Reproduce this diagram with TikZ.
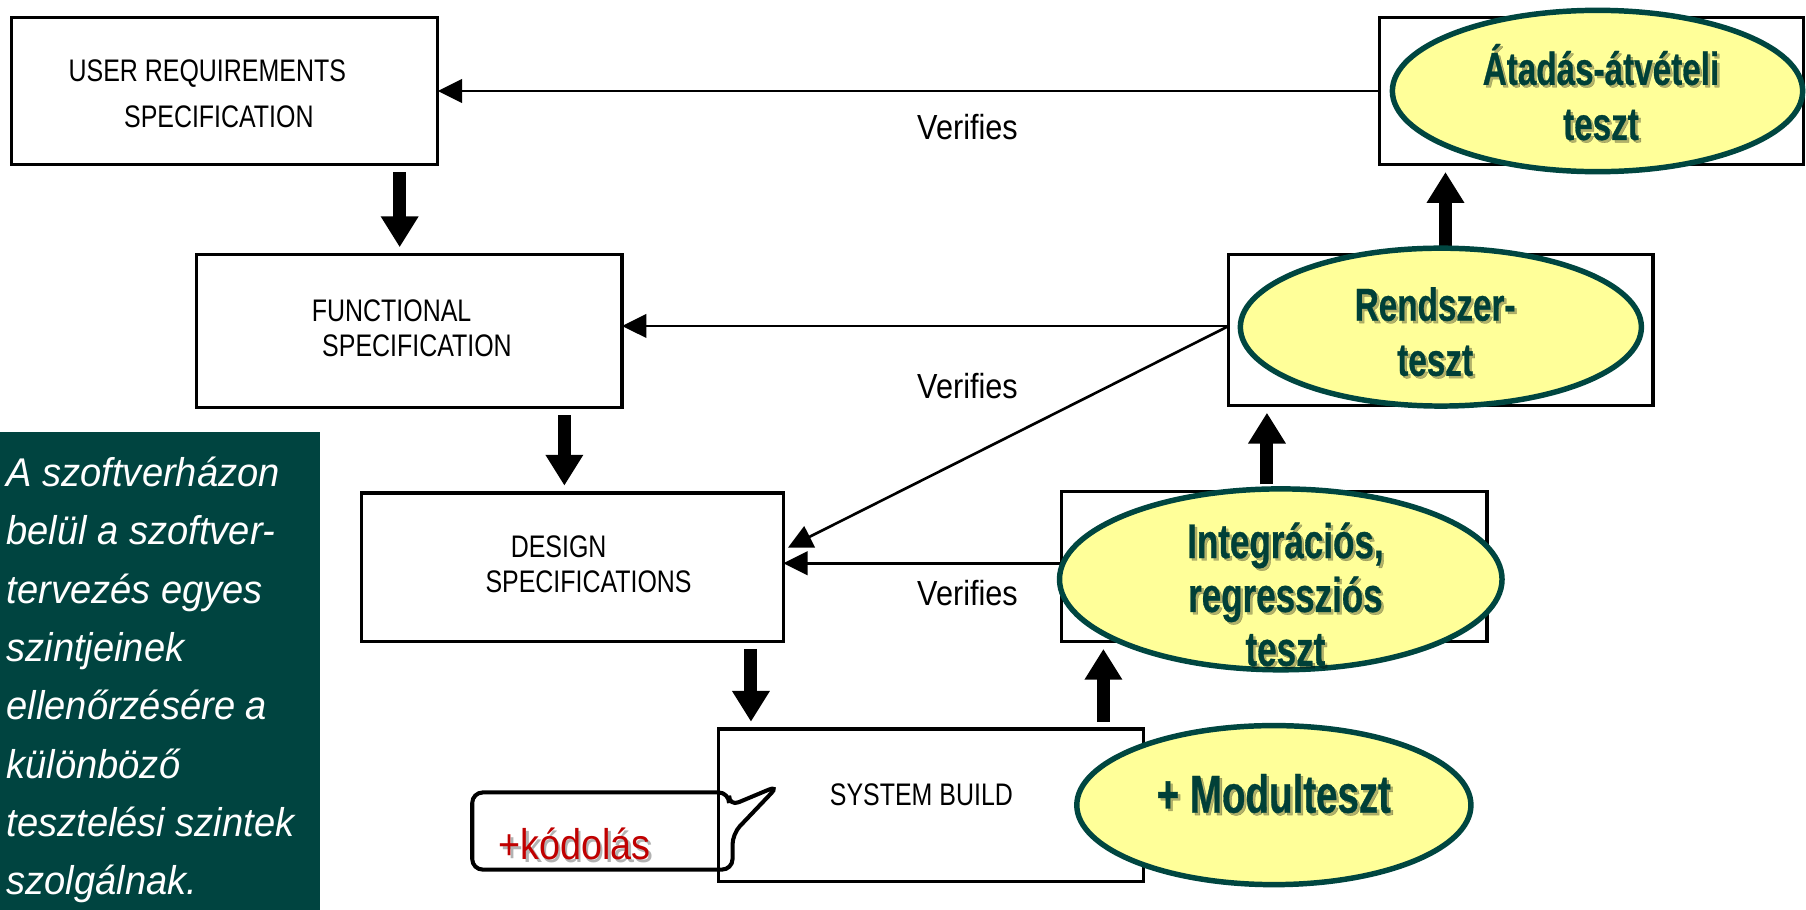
\documentclass[tikz,border=0pt]{standalone}
\usepackage{fontspec}
\setmainfont{Liberation Sans}
\newfontfamily\boxfont[FakeStretch=0.80]{Liberation Sans}
\newfontfamily\verfont[FakeStretch=0.88]{Liberation Sans}
\newfontfamily\ellfont[FakeStretch=0.72,FakeBold=0.6]{Liberation Sans}
\newfontfamily\panelfont[FakeStretch=0.95]{Liberation Sans}
\usetikzlibrary{arrows.meta,shapes.geometric,calc}

\definecolor{panelgreen}{RGB}{0,68,64}
\definecolor{ellline}{RGB}{0,70,64}
\definecolor{ellfill}{RGB}{255,255,153}
\definecolor{elltextcol}{RGB}{0,64,56}
\definecolor{codered}{RGB}{192,0,0}

% text with a soft drop shadow: #1 style, #2 name, #3 position, #4 text
\newcommand\shadowlabel[4]{%
  \node[#1, text=black, opacity=0.3, xshift=0.6pt, yshift=-0.6pt] (#2-shadow) at (#3) {#4};
  \node[#1] (#2) at (#3) {#4};
}

\begin{document}
\begin{tikzpicture}[x=0.01cm, y=-0.01cm,
  stagebox/.style={draw=black, line width=0.8pt, inner sep=0pt, outer sep=0pt},
  boxtext/.style={font=\boxfont\fontsize{7.7}{9}\selectfont, inner sep=0pt},
  verify/.style={font=\verfont\fontsize{8.6}{10}\selectfont, inner sep=0pt},
  thinarrow/.style={line width=0.65pt, -{Triangle[length=6pt,width=5.8pt]}},
  bigarrow/.style={line width=3.2pt, -{Triangle[length=7.6pt,width=8.8pt]},
    shorten <=1.8pt, shorten >=1.8pt},
  testell/.style={ellipse, draw=ellline, line width=1.35pt, fill=ellfill, inner sep=0pt},
  elltext/.style={font=\ellfont\bfseries\fontsize{11.4}{13.6}\selectfont,
    text=elltextcol, align=center, inner sep=0pt},
  codetext/.style={font=\verfont\fontsize{10.6}{12}\selectfont, text=codered, inner sep=0pt},
  paneltext/.style={font=\panelfont\itshape\fontsize{9.9}{14.4}\selectfont,
    text=white, align=left, inner sep=0pt, anchor=north west}
]
\fill[white] (0,0) rectangle (1568,790);
\useasboundingbox (0,0) rectangle (1568,790);

% side note panel
\fill[panelgreen] (0,375) rectangle (278,790);
\node[paneltext] (note) at (5,396) {A szoftverházon\\belül a szoftver-\\tervezés egyes\\szintjeinek\\ellenőrzésére a\\különböző\\tesztelési szintek\\szolgálnak.};

% specification / test stages
\node[stagebox, minimum width=3.70cm, minimum height=1.28cm] (urs) at (195,79) {};
\node[stagebox, minimum width=3.68cm, minimum height=1.28cm] (acc) at (1382,79) {};
\node[stagebox, minimum width=3.69cm, minimum height=1.33cm] (func) at (355.5,287.5) {};
\node[stagebox, minimum width=3.68cm, minimum height=1.31cm] (ren) at (1251,286.5) {};
\node[stagebox, minimum width=3.66cm, minimum height=1.29cm] (design) at (497,492.5) {};
\node[stagebox, minimum width=3.69cm, minimum height=1.30cm] (integ) at (1106.5,492) {};
\node[stagebox, minimum width=3.69cm, minimum height=1.32cm] (build) at (808.5,699) {};

\node[boxtext] (urs-a) at (180,64) {USER REQUIREMENTS};
\node[boxtext] (urs-b) at (190,101) {SPECIFICATION};
\node[boxtext] (func-a) at (340,270) {FUNCTIONAL};
\node[boxtext] (func-b) at (362,300) {SPECIFICATION};
\node[boxtext] (design-a) at (485,475) {DESIGN};
\node[boxtext] (design-b) at (511,505) {SPECIFICATIONS};
\node[boxtext] (build-t) at (800,690) {SYSTEM BUILD};

% verification links
\coordinate (rjoin) at ($(ren.west)+(0,-3.5)$);
\coordinate (ijoin) at ($(integ.west)+(0,-3)$);
\coordinate (dtip) at ($(design.east)+(4,-17)$);
\draw[thinarrow] (acc.west) -- (urs.east |- acc.west);
\draw[thinarrow] (rjoin) -- (func.east |- rjoin);
\draw[thinarrow] (rjoin) -- (dtip);
\draw[thinarrow] (ijoin) -- (design.east |- ijoin);

\node[verify] (v1) at (840,110) {Verifies};
\node[verify] (v2) at (840,335) {Verifies};
\node[verify] (v3) at (840,515) {Verifies};

% development flow
\coordinate (xa) at (347,0);
\coordinate (xb) at (490,0);
\coordinate (xc) at (652,0);
\coordinate (xd) at (958,0);
\coordinate (xe) at (1100,0);
\coordinate (xf) at (1255,0);
\draw[bigarrow] (urs.south -| xa) -- (func.north -| xa);
\draw[bigarrow] (func.south -| xb) -- (design.north -| xb);
\draw[bigarrow] (design.south -| xc) -- (build.north -| xc);
\draw[bigarrow] (build.north -| xd) -- (integ.south -| xd);
\draw[bigarrow] (integ.north -| xe) -- (ren.south -| xe);
\draw[bigarrow] (ren.north -| xf) -- (acc.south -| xf);

% test levels
\node[testell, minimum width=3.56cm, minimum height=1.40cm] (acc-e) at (1387,79) {};
\node[testell, minimum width=3.48cm, minimum height=1.37cm] (ren-e) at (1251,284) {};
\node[testell, minimum width=3.84cm, minimum height=1.57cm] (integ-e) at (1112,503) {};
\node[testell, minimum width=3.42cm, minimum height=1.38cm] (modul-e) at (1106,699) {};

\shadowlabel{elltext}{acc-t}{1390,80}{Átadás-átvételi\\teszt}
\shadowlabel{elltext}{ren-t}{1246,288}{Rendszer-\\teszt}
\shadowlabel{elltext, font=\ellfont\bfseries\fontsize{12}{13.3}\selectfont}{integ-t}{1116,516}{Integrációs,\\regressziós\\teszt}
\shadowlabel{elltext, font=\ellfont\bfseries\fontsize{13.2}{15}\selectfont}{modul-t}{1106,689}{+ Modulteszt}

% coding callout
\draw[line width=1pt, rounded corners=2.6pt]
  (410,720) -- (410,688) -- (633,688) -- (633,700) -- (676,682)
  -- (636,724) -- (636,755) -- (410,755) -- cycle;
\shadowlabel{codetext}{kod}{499,733}{+kódolás}
\end{tikzpicture}
\end{document}
